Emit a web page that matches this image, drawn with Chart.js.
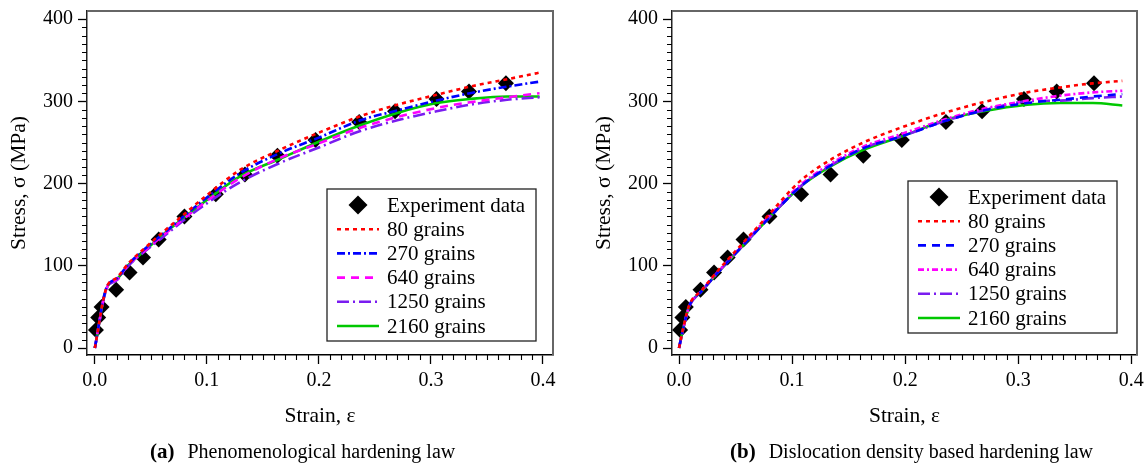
<!DOCTYPE html>
<html>
<head>
<meta charset="utf-8">
<script src="https://cdn.jsdelivr.net/npm/chart.js@4.4.1/dist/chart.umd.min.js"></script>
<style>
  body { margin: 0; background: #fff; width: 1148px; height: 465px; position: relative; overflow: hidden; font-family: 'Liberation Serif', serif; color: #000; }
  canvas { position: absolute; top: 0; }
  #chartA { left: 0; }
  #chartB { left: 585px; }
  .cap { position: absolute; top: 439px; font-size: 20px; line-height: 24px; white-space: nowrap; }
  .cap b { margin-right: 8px; font-size: 21px; }
</style>
</head>
<body>
<canvas id="chartA" width="575" height="440"></canvas>
<canvas id="chartB" width="563" height="440"></canvas>
<div class="cap" style="left:150px"><b>(a)</b> Phenomenological hardening law</div>
<div class="cap" style="left:730px"><b>(b)</b> Dislocation density based hardening law</div>
<script>
// experiment (same points in both panels)
const expStrain = [0.001, 0.003, 0.006, 0.019, 0.031, 0.043, 0.057, 0.080, 0.108, 0.134, 0.163, 0.197, 0.236, 0.268, 0.305, 0.334, 0.367];
const expStress = [22, 37, 50, 71, 92, 110, 132, 160, 187, 211, 234, 253, 275, 288, 303, 312, 322];

// (a) phenomenological hardening law
const strainA = [0, 0.01, 0.02, 0.03, 0.045, 0.06, 0.08, 0.1, 0.13, 0.165, 0.2, 0.237, 0.27, 0.305, 0.335, 0.368, 0.397];
const a80   = [0, 72, 86, 103, 122, 140, 163, 186, 217, 241, 262, 282, 296, 308, 318, 327, 335];
const a270  = [0, 72, 85, 102, 121, 138, 161, 183, 213, 237, 256, 277, 289, 301, 310, 318, 324];
const a640  = [0, 71, 84, 101, 119, 136, 158, 179, 207, 231, 249, 268, 281, 292, 299, 305, 310];
const a1250 = [0, 70, 83, 100, 118, 134, 156, 176, 202, 225, 244, 264, 277, 288, 296, 302, 305];
const a2160 = [0, 71, 84, 101, 119, 137, 159, 180, 209, 230, 251, 271, 286, 298, 303, 306, 306];

// (b) dislocation density based hardening law
const strainB = [0, 0.004, 0.009, 0.02, 0.03, 0.05, 0.078, 0.107, 0.134, 0.163, 0.198, 0.237, 0.269, 0.308, 0.337, 0.366, 0.392];
const b80   = [0, 26, 52, 70, 87, 118, 160, 203, 229, 250, 269, 287, 299, 311, 317, 322, 325];
const b270  = [0, 25, 51, 69, 85, 115, 156, 196, 222, 243, 258, 277, 289, 298, 302, 306, 309];
const b640  = [0, 25, 51, 70, 86, 116, 158, 198, 224, 245, 261, 279, 291, 301, 307, 311, 313];
const b1250 = [0, 25, 50, 69, 85, 115, 156, 196, 222, 243, 258, 277, 289, 300, 301, 304, 306];
const b2160 = [0, 25, 51, 69, 85, 115, 156, 196, 221, 241, 258, 278, 288, 296, 298, 298, 295];

const xTicks = [0, 0.1, 0.2, 0.3, 0.4];
const yTicks = [0, 100, 200, 300, 400];
const xLabel = 'Strain, ε';
const yLabel = 'Stress, σ (MPa)';

const pts = (xs, ys) => xs.map((x, i) => ({x: x, y: ys[i]}));

const tickFont = {family: 'Liberation Serif', size: 20};
const titleFont = {family: 'Liberation Serif', size: 21.5};

function expSet() {
  return {
    label: 'Experiment data', data: pts(expStrain, expStress), showLine: false,
    pointStyle: 'rectRot', pointRadius: 8, pointHoverRadius: 8,
    backgroundColor: '#000', borderColor: '#000', borderWidth: 0, order: 10
  };
}
function lineSet(label, xs, ys, color, dash) {
  return {
    label: label, data: pts(xs, ys), showLine: true, pointRadius: 0,
    borderColor: color, borderWidth: 2.6, borderDash: dash,
    cubicInterpolationMode: 'monotone', order: 1
  };
}

function axes(xMin, xMax) {
  return {
    x: {
      type: 'linear', min: xMin, max: xMax,
      afterBuildTicks: s => { s.ticks = xTicks.map(v => ({value: v})); },
      afterFit: s => { s.height = 85; s.paddingLeft = 0; s.paddingRight = 0; },
      grid: {drawOnChartArea: false, tickLength: 9, tickColor: '#000', tickWidth: 1.3},
      border: {color: '#000', width: 1.5},
      ticks: {font: tickFont, color: '#000', padding: 5, maxRotation: 0, autoSkip: false,
        callback: v => v.toFixed(1)},
      title: {display: true, text: xLabel, font: titleFont, color: '#000', padding: {top: 0, bottom: 11}}
    },
    y: {
      type: 'linear', min: -8.5, max: 410,
      afterBuildTicks: s => { s.ticks = yTicks.map(v => ({value: v})); },
      afterFit: s => { s.width = 87; s.paddingTop = 0; s.paddingBottom = 0; },
      grid: {drawOnChartArea: false, tickLength: 9, tickColor: '#000', tickWidth: 1.3},
      border: {color: '#222', width: 1.5},
      ticks: {font: tickFont, color: '#000', padding: 5, autoSkip: false},
      title: {display: true, text: yLabel, font: titleFont, color: '#000', padding: {top: 6, bottom: 0}}
    }
  };
}

// minor ticks, top/right frame and boxed legend
const frame = {
  id: 'frame',
  afterDraw(chart, args, opts) {
    const ctx = chart.ctx, a = chart.chartArea;
    const xs = chart.scales.x, ys = chart.scales.y;
    ctx.save();
    ctx.strokeStyle = '#000';
    ctx.lineWidth = 1.1;
    ctx.beginPath();
    for (let i = 1; i < 41; i++) {
      if (i % 10 === 0) continue;
      const px = Math.round(xs.getPixelForValue(i / 100)) + 0.5;
      ctx.moveTo(px, a.bottom); ctx.lineTo(px, a.bottom + 5);
    }
    for (let v = 10; v < 410; v += 10) {
      if (v % 100 === 0) continue;
      const py = Math.round(ys.getPixelForValue(v)) + 0.5;
      ctx.moveTo(a.left, py); ctx.lineTo(a.left - 5, py);
    }
    ctx.stroke();

    ctx.strokeStyle = '#666';
    ctx.lineWidth = 2;
    ctx.beginPath();
    ctx.moveTo(a.left, a.top); ctx.lineTo(a.right, a.top); ctx.lineTo(a.right, a.bottom);
    ctx.stroke();

    // legend
    const w = 209, h = 152, rowH = 24.2;
    const bx = a.right - opts.right - w, by = a.bottom - opts.bottom - h;
    ctx.fillStyle = '#fff';
    ctx.fillRect(bx, by, w, h);
    ctx.strokeStyle = '#222';
    ctx.lineWidth = 1.3;
    ctx.strokeRect(bx, by, w, h);
    const order = [...chart.data.datasets].sort((p, q) => q.order - p.order);
    order.forEach((ds, i) => {
      const cy = by + 16 + i * rowH;
      if (ds.showLine) {
        ctx.strokeStyle = ds.borderColor;
        ctx.lineWidth = ds.borderWidth;
        ctx.setLineDash(ds.borderDash || []);
        ctx.beginPath();
        ctx.moveTo(bx + 10, cy); ctx.lineTo(bx + 52, cy);
        ctx.stroke();
        ctx.setLineDash([]);
      } else {
        const cx = bx + 31, r = 9.5;
        ctx.fillStyle = '#000';
        ctx.beginPath();
        ctx.moveTo(cx - r, cy); ctx.lineTo(cx, cy - r); ctx.lineTo(cx + r, cy); ctx.lineTo(cx, cy + r);
        ctx.closePath();
        ctx.fill();
      }
      ctx.fillStyle = '#000';
      ctx.font = '21px "Liberation Serif"';
      ctx.textBaseline = 'middle';
      ctx.textAlign = 'left';
      ctx.fillText(ds.label, bx + 60, cy + 1);
    });
    ctx.restore();
  }
};

new Chart(document.getElementById('chartA'), {
  type: 'scatter',
  data: {
    datasets: [
      expSet(),
      lineSet('80 grains', strainA, a80, '#ff0000', [4, 4]),
      lineSet('270 grains', strainA, a270, '#0000ff', [8, 3, 2, 3]),
      lineSet('640 grains', strainA, a640, '#ff00ff', [8, 6]),
      lineSet('1250 grains', strainA, a1250, '#7a1cf0', [12, 4, 2, 4]),
      lineSet('2160 grains', strainA, a2160, '#00c800', [])
    ]
  },
  options: {
    responsive: false,
    animation: false,
    layout: {padding: {left: 0, right: 22, top: 11, bottom: 0}},
    scales: axes(-0.007, 0.409),
    plugins: {legend: {display: false}, tooltip: {enabled: false}, frame: {right: 17, bottom: 14}}
  },
  plugins: [frame]
});

new Chart(document.getElementById('chartB'), {
  type: 'scatter',
  data: {
    datasets: [
      expSet(),
      lineSet('80 grains', strainB, b80, '#ff0000', [4, 4]),
      lineSet('270 grains', strainB, b270, '#0000ff', [8, 6]),
      lineSet('640 grains', strainB, b640, '#ff00ff', [6, 3, 2, 3]),
      lineSet('1250 grains', strainB, b1250, '#7a1cf0', [12, 4, 2, 4]),
      lineSet('2160 grains', strainB, b2160, '#00c800', [])
    ]
  },
  options: {
    responsive: false,
    animation: false,
    layout: {padding: {left: 0, right: 11, top: 11, bottom: 0}},
    scales: axes(-0.0062, 0.405),
    plugins: {legend: {display: false}, tooltip: {enabled: false}, frame: {right: 20, bottom: 22}}
  },
  plugins: [frame]
});
</script>
</body>
</html>
